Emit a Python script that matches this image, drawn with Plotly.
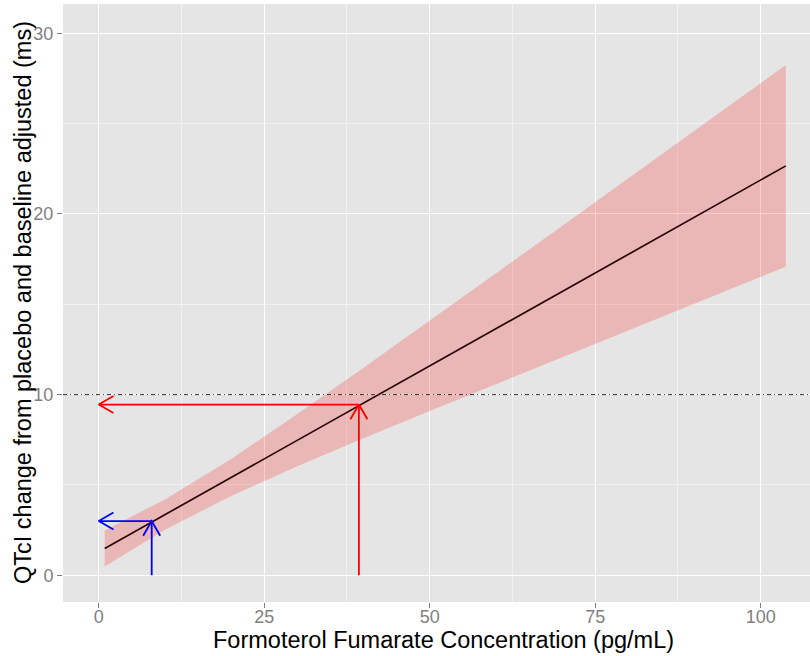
import math
import plotly.graph_objects as go

# Confidence band of the exposure-response model (concentration in pg/mL, QTcI change in ms)
conc_band = [0.9, 10, 20, 30, 40, 50, 60, 70, 80, 90, 103.8]
qtc_upper = [2.48, 4.20, 6.44, 8.92, 11.49, 14.09, 16.71, 19.33, 21.97, 24.60, 28.24]
qtc_lower = [0.49, 2.52, 4.39, 6.03, 7.58, 9.09, 10.59, 12.08, 13.56, 15.04, 17.08]

# Model prediction (straight line between the end points)
conc_fit = [0.9, 103.8]
qtc_fit = [1.48, 22.66]

# Read-off arrows: concentration -> predicted QTcI change
arrow_conc = [8.0, 39.3]
arrow_qtc = [3.0, 9.45]
arrow_colors = ["#0000FF", "#FF0000"]

threshold_qtc = 10

x_ticks = [0, 25, 50, 75, 100]
y_ticks = [0, 10, 20, 30]

x_title = "Formoterol Fumarate Concentration (pg/mL)"
y_title = "QTcI change from placebo and baseline adjusted (ms)"

# Figure geometry
W, H = 810, 656
MARGIN = dict(l=63, r=0, t=4, b=54, pad=0)
X_RANGE = [-5.4, 107.45]
Y_RANGE = [-1.48, 31.62]
plot_w = W - MARGIN["l"] - MARGIN["r"]
plot_h = H - MARGIN["t"] - MARGIN["b"]
sx = plot_w / (X_RANGE[1] - X_RANGE[0])  # px per data unit
sy = plot_h / (Y_RANGE[1] - Y_RANGE[0])

HEAD_LEN = 17.0
HEAD_ANGLE = math.radians(30)
FONT = "Liberation Sans, Arial, sans-serif"


def arrow_head(x_tip, y_tip, dx, dy):
    """Open V head at the tip; (dx, dy) is the travel direction in pixel space."""
    n = math.hypot(dx, dy)
    ux, uy = dx / n, dy / n
    xs, ys = [], []
    for sgn in (1, -1):
        c, s = math.cos(sgn * HEAD_ANGLE), math.sin(sgn * HEAD_ANGLE)
        rx, ry = ux * c - uy * s, ux * s + uy * c
        xs.append(x_tip - rx * HEAD_LEN / sx)
        ys.append(y_tip - ry * HEAD_LEN / sy)
    return [xs[0], x_tip, xs[1]], [ys[0], y_tip, ys[1]]


fig = go.Figure()

# Confidence ribbon
fig.add_trace(go.Scatter(
    x=conc_band + conc_band[::-1],
    y=qtc_upper + qtc_lower[::-1],
    fill="toself", fillcolor="rgba(255,0,0,0.2)",
    line=dict(width=0), mode="lines",
    hoverinfo="skip", showlegend=False,
))

# Prediction line
fig.add_trace(go.Scatter(
    x=conc_fit, y=qtc_fit, mode="lines",
    line=dict(color="#2a0606", width=1.7), showlegend=False,
))

# Arrows
for xc, yq, col in zip(arrow_conc, arrow_qtc, arrow_colors):
    xs, ys = [], []
    # vertical shaft from the axis up to the prediction
    xs += [xc, xc, None]
    ys += [0, yq, None]
    hx, hy = arrow_head(xc, yq, 0, 1)
    xs += hx + [None]
    ys += hy + [None]
    # horizontal shaft back to the y axis
    xs += [xc, 0, None]
    ys += [yq, yq, None]
    hx, hy = arrow_head(0, yq, -1, 0)
    xs += hx
    ys += hy
    fig.add_trace(go.Scatter(
        x=xs, y=ys, mode="lines", line=dict(color=col, width=1.8),
        showlegend=False, hoverinfo="skip",
    ))

# 10 ms threshold
fig.add_shape(
    type="line", xref="paper", x0=0, x1=1, yref="y", y0=threshold_qtc, y1=threshold_qtc,
    line=dict(color="#333333", width=1, dash="4px,3px,1px,3px"), layer="above",
)

axis_common = dict(
    showgrid=True, gridcolor="#FFFFFF", gridwidth=1.2, zeroline=False,
    ticks="outside", ticklen=5, tickwidth=1, tickcolor="#7F7F7F",
    tickfont=dict(family=FONT, size=18, color="#7F7F7F"),
    showline=False,
)

fig.update_xaxes(
    range=X_RANGE, tickvals=x_ticks, ticktext=[str(v) for v in x_ticks],
    ticklabelstandoff=-7,
    minor=dict(dtick=12.5, tick0=0, showgrid=True, gridcolor="#F2F2F2", gridwidth=1, ticks=""),
    **axis_common,
)
fig.update_yaxes(
    range=Y_RANGE, tickvals=y_ticks, ticktext=[str(v) for v in y_ticks],
    minor=dict(dtick=5, tick0=0, showgrid=True, gridcolor="#F2F2F2", gridwidth=1, ticks=""),
    **axis_common,
)

fig.add_annotation(
    text=x_title, xref="paper", yref="paper",
    x=(443 - MARGIN["l"]) / plot_w, y=-(640 - (H - MARGIN["b"])) / plot_h,
    xanchor="center", yanchor="middle", showarrow=False,
    font=dict(family=FONT, size=23.5, color="#000000"),
)
fig.add_annotation(
    text=y_title, xref="paper", yref="paper",
    x=(23 - MARGIN["l"]) / plot_w, y=0.5, textangle=-90,
    xanchor="center", yanchor="middle", showarrow=False,
    font=dict(family=FONT, size=23.5, color="#000000"),
)

fig.update_layout(
    width=W, height=H, autosize=False, margin=MARGIN,
    plot_bgcolor="#E5E5E5", paper_bgcolor="#FFFFFF",
    showlegend=False,
)

fig.write_html("out.html")
